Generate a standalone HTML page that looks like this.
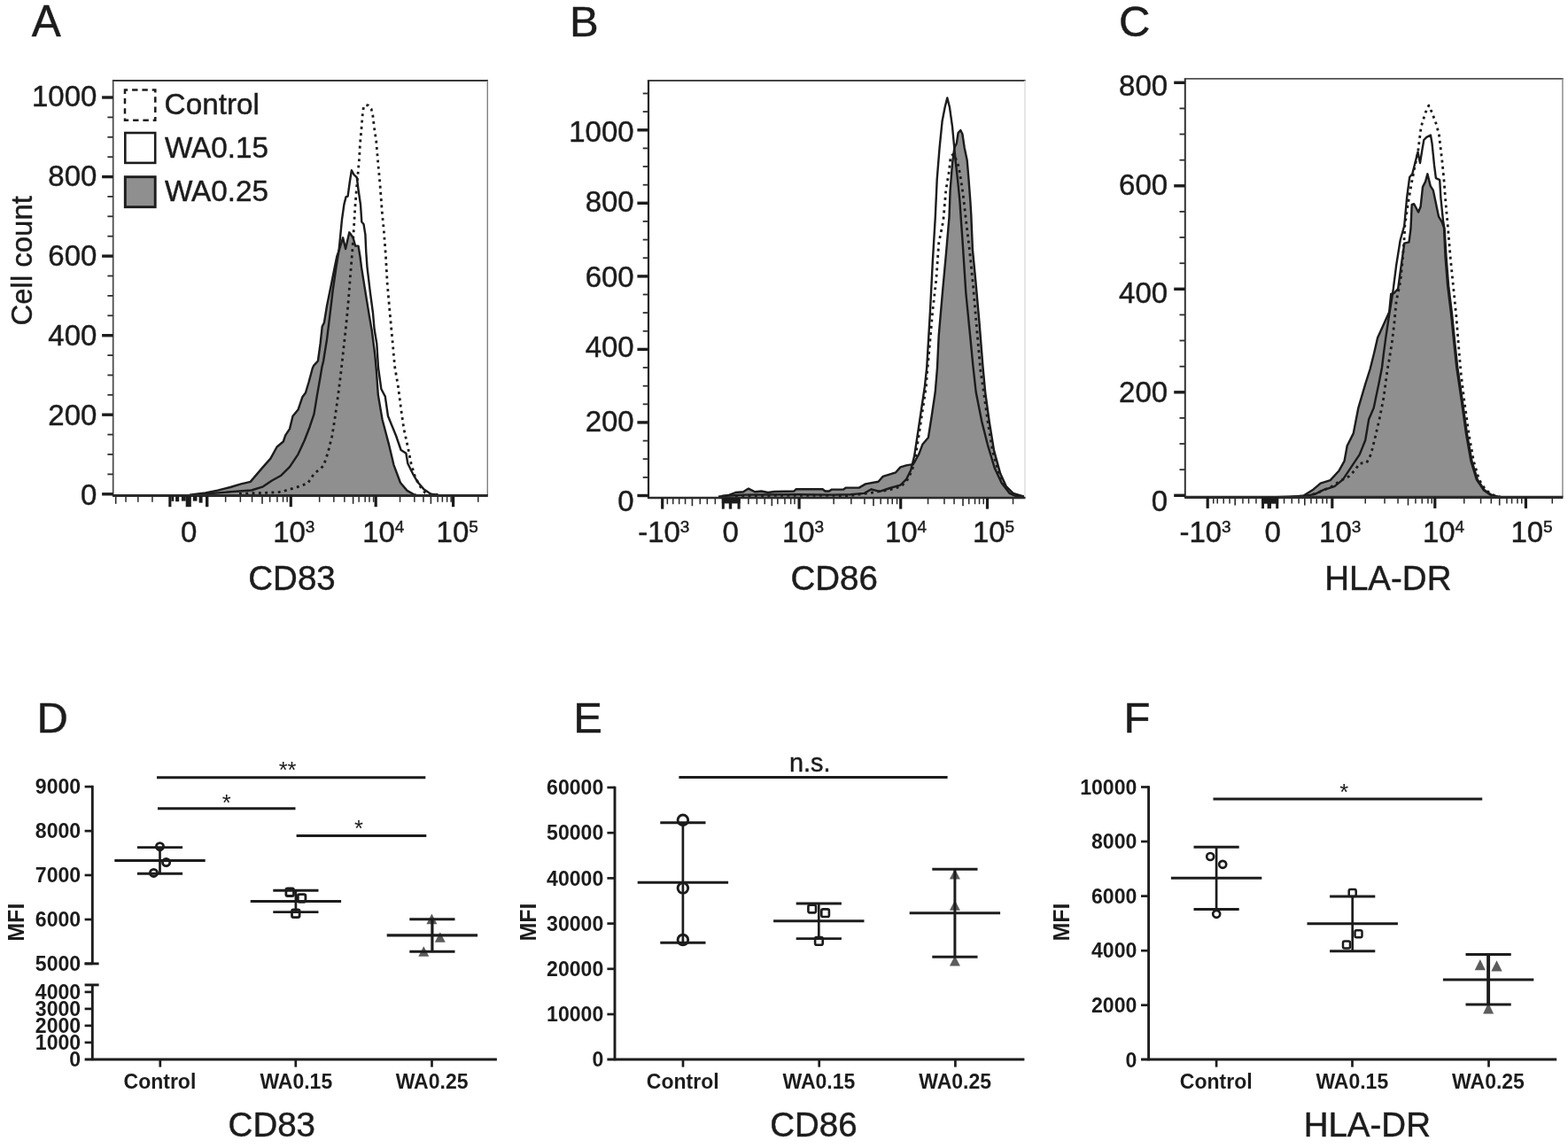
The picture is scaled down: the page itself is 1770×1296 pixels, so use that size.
<!DOCTYPE html>
<html lang="en">
<head>
<meta charset="utf-8">
<title>Figure: CD83, CD86, HLA-DR expression</title>
<style>
html,body{margin:0;padding:0;background:#fff;}
body{width:1770px;height:1296px;overflow:hidden;}
svg{display:block;}
svg text{font-family:"Liberation Sans", sans-serif;fill:#1c1c1c;stroke:#1c1c1c;stroke-width:0.45px;}
svg text.ns{stroke:none;}
</style>
</head>
<body>
<svg width="1770" height="1296" viewBox="0 0 1770 1296">
<rect x="0" y="0" width="1770" height="1296" fill="#ffffff"/>
<g id="panelA">
<text x="35.7" y="41.0" font-size="49.50" text-anchor="start" font-weight="normal" >A</text>
<path d="M214.0 558.6 L232.0 556.5 L245.6 553.6 L260.0 550.0 L272.0 546.3 L282.7 543.9 L295.9 528.4 L305.4 517.6 L312.6 504.5 L319.8 498.5 L322.2 491.3 L327.0 484.1 L330.5 469.8 L336.5 462.6 L341.3 448.3 L344.9 443.5 L348.5 431.5 L352.7 416.0 L354.0 412.9 L358.9 407.5 L361.6 388.0 L363.7 368.6 L365.9 364.3 L369.1 344.8 L373.5 323.2 L377.8 301.6 L380.3 289.5 L382.4 283.6 L387.1 268.3 L390.1 281.0 L394.3 262.3 L398.6 268.3 L401.1 277.6 L404.5 277.6 L406.5 289.5 L408.0 301.6 L412.3 328.6 L416.7 355.6 L419.9 374.0 L423.2 400.0 L425.0 420.0 L426.8 445.6 L431.6 473.7 L439.3 502.9 L444.4 524.6 L452.0 545.0 L459.6 553.9 L467.3 558.3 L470.0 558.6 L470.0 559.8 L214.0 559.8 Z" fill="#8f8f8f" stroke="none"/>
<path d="M214.0 558.6 L232.0 556.5 L245.6 553.6 L260.0 550.0 L272.0 546.3 L282.7 543.9 L295.9 528.4 L305.4 517.6 L312.6 504.5 L319.8 498.5 L322.2 491.3 L327.0 484.1 L330.5 469.8 L336.5 462.6 L341.3 448.3 L344.9 443.5 L348.5 431.5 L352.7 416.0 L354.0 412.9 L358.9 407.5 L361.6 388.0 L363.7 368.6 L365.9 364.3 L369.1 344.8 L373.5 323.2 L377.8 301.6 L380.3 289.5 L382.4 283.6 L387.1 268.3 L390.1 281.0 L394.3 262.3 L398.6 268.3 L401.1 277.6 L404.5 277.6 L406.5 289.5 L408.0 301.6 L412.3 328.6 L416.7 355.6 L419.9 374.0 L423.2 400.0 L425.0 420.0 L426.8 445.6 L431.6 473.7 L439.3 502.9 L444.4 524.6 L452.0 545.0 L459.6 553.9 L467.3 558.3 L470.0 558.6" fill="none" stroke="#1c1c1c" stroke-width="2.4" stroke-linejoin="round"/>
<path d="M222.0 558.3 L260.0 555.3 L283.9 553.5 L297.0 549.3 L306.6 542.7 L317.4 536.7 L327.0 527.2 L336.5 512.8 L343.7 497.3 L349.7 481.7 L354.5 467.4 L358.0 445.9 L361.6 425.5 L363.5 414.0 L365.0 408.0 L369.1 382.6 L372.4 355.6 L375.6 328.6 L379.5 301.6 L382.5 283.0 L383.5 273.4 L386.0 247.9 L388.4 230.9 L390.5 222.4 L392.6 221.6 L394.8 205.5 L396.9 192.3 L399.4 197.0 L402.8 200.4 L404.5 214.0 L407.0 231.0 L408.3 250.5 L410.5 253.0 L412.4 264.9 L413.3 285.0 L414.5 301.6 L417.7 328.6 L421.0 353.5 L422.6 371.8 L425.3 388.0 L427.0 415.0 L430.4 439.3 L434.8 447.6 L438.0 469.8 L446.9 491.5 L452.6 508.0 L458.4 511.8 L460.3 523.3 L466.0 534.8 L471.1 543.7 L478.7 552.6 L486.4 557.7 L494.0 558.6" fill="none" stroke="#1c1c1c" stroke-width="2.4" stroke-linejoin="round"/>
<path d="M270.0 557.5 L284.0 556.6 L298.3 556.5 L317.4 555.3 L335.3 549.9 L347.3 545.7 L354.5 534.9 L365.2 526.0 L370.0 511.6 L374.8 492.5 L378.4 469.8 L381.4 448.3 L384.3 425.5 L385.5 415.0 L387.5 396.7 L390.7 367.5 L393.4 338.3 L395.6 309.2 L397.8 283.0 L399.4 258.0 L400.7 236.0 L402.4 214.0 L404.3 193.4 L405.6 178.0 L406.4 163.0 L407.7 149.0 L408.9 134.0 L409.5 126.7 L410.5 120.5 L412.5 118.4 L415.7 119.0 L419.1 123.0 L420.8 130.0 L422.5 144.6 L424.7 159.4 L425.9 174.0 L427.2 188.7 L428.5 203.0 L429.1 209.7 L431.3 239.4 L433.4 261.5 L435.5 289.5 L437.2 320.0 L440.4 356.7 L443.7 392.3 L445.6 413.8 L449.5 436.7 L452.6 460.9 L455.8 483.8 L460.3 504.2 L464.1 523.3 L468.6 538.6 L474.9 550.0 L480.0 556.4 L486.4 558.2 L497.0 558.6" fill="none" stroke="#1c1c1c" stroke-width="2.8" stroke-dasharray="2.9 4.4" stroke-linejoin="round"/>
<line x1="126.9" y1="91.1" x2="551.0" y2="91.1" stroke="#383838" stroke-width="2.00" stroke-linecap="butt"/>
<line x1="127.7" y1="91.1" x2="127.7" y2="560.6" stroke="#484848" stroke-width="1.70" stroke-linecap="butt"/>
<line x1="550.3" y1="91.1" x2="550.3" y2="559.6" stroke="#808080" stroke-width="1.40" stroke-linecap="butt"/>
<line x1="127.2" y1="559.6" x2="550.8" y2="559.6" stroke="#2b2b2b" stroke-width="3.00" stroke-linecap="butt"/>
<line x1="115.1" y1="557.8" x2="127.7" y2="557.8" stroke="#1c1c1c" stroke-width="3.40" stroke-linecap="butt"/>
<text x="109.4" y="569.8" font-size="33.00" text-anchor="end" font-weight="normal" >0</text>
<line x1="115.1" y1="468.2" x2="127.7" y2="468.2" stroke="#1c1c1c" stroke-width="3.40" stroke-linecap="butt"/>
<text x="109.4" y="480.3" font-size="33.00" text-anchor="end" font-weight="normal" >200</text>
<line x1="115.1" y1="378.7" x2="127.7" y2="378.7" stroke="#1c1c1c" stroke-width="3.40" stroke-linecap="butt"/>
<text x="109.4" y="389.7" font-size="33.00" text-anchor="end" font-weight="normal" >400</text>
<line x1="115.1" y1="289.1" x2="127.7" y2="289.1" stroke="#1c1c1c" stroke-width="3.40" stroke-linecap="butt"/>
<text x="109.4" y="300.2" font-size="33.00" text-anchor="end" font-weight="normal" >600</text>
<line x1="115.1" y1="199.6" x2="127.7" y2="199.6" stroke="#1c1c1c" stroke-width="3.40" stroke-linecap="butt"/>
<text x="109.4" y="210.1" font-size="33.00" text-anchor="end" font-weight="normal" >800</text>
<line x1="115.1" y1="110.0" x2="127.7" y2="110.0" stroke="#1c1c1c" stroke-width="3.40" stroke-linecap="butt"/>
<text x="109.4" y="119.6" font-size="33.00" text-anchor="end" font-weight="normal" >1000</text>
<line x1="121.4" y1="535.4" x2="127.7" y2="535.4" stroke="#2e2e2e" stroke-width="1.80" stroke-linecap="butt"/>
<line x1="121.4" y1="513.0" x2="127.7" y2="513.0" stroke="#2e2e2e" stroke-width="1.80" stroke-linecap="butt"/>
<line x1="121.4" y1="490.6" x2="127.7" y2="490.6" stroke="#2e2e2e" stroke-width="1.80" stroke-linecap="butt"/>
<line x1="121.4" y1="445.8" x2="127.7" y2="445.8" stroke="#2e2e2e" stroke-width="1.80" stroke-linecap="butt"/>
<line x1="121.4" y1="423.5" x2="127.7" y2="423.5" stroke="#2e2e2e" stroke-width="1.80" stroke-linecap="butt"/>
<line x1="121.4" y1="401.1" x2="127.7" y2="401.1" stroke="#2e2e2e" stroke-width="1.80" stroke-linecap="butt"/>
<line x1="121.4" y1="356.3" x2="127.7" y2="356.3" stroke="#2e2e2e" stroke-width="1.80" stroke-linecap="butt"/>
<line x1="121.4" y1="333.9" x2="127.7" y2="333.9" stroke="#2e2e2e" stroke-width="1.80" stroke-linecap="butt"/>
<line x1="121.4" y1="311.5" x2="127.7" y2="311.5" stroke="#2e2e2e" stroke-width="1.80" stroke-linecap="butt"/>
<line x1="121.4" y1="266.7" x2="127.7" y2="266.7" stroke="#2e2e2e" stroke-width="1.80" stroke-linecap="butt"/>
<line x1="121.4" y1="244.3" x2="127.7" y2="244.3" stroke="#2e2e2e" stroke-width="1.80" stroke-linecap="butt"/>
<line x1="121.4" y1="221.9" x2="127.7" y2="221.9" stroke="#2e2e2e" stroke-width="1.80" stroke-linecap="butt"/>
<line x1="121.4" y1="177.2" x2="127.7" y2="177.2" stroke="#2e2e2e" stroke-width="1.80" stroke-linecap="butt"/>
<line x1="121.4" y1="154.8" x2="127.7" y2="154.8" stroke="#2e2e2e" stroke-width="1.80" stroke-linecap="butt"/>
<line x1="121.4" y1="132.4" x2="127.7" y2="132.4" stroke="#2e2e2e" stroke-width="1.80" stroke-linecap="butt"/>
<rect x="326.7" y="559.6" width="3.2" height="12.6" fill="#1c1c1c"/>
<rect x="422.6" y="559.6" width="3.2" height="12.6" fill="#1c1c1c"/>
<rect x="510.0" y="559.6" width="3.2" height="12.6" fill="#1c1c1c"/>
<rect x="141.3" y="559.6" width="1.5" height="7.2" fill="#2a2a2a"/>
<rect x="155.1" y="559.6" width="1.5" height="7.2" fill="#2a2a2a"/>
<rect x="171.2" y="559.6" width="1.5" height="7.2" fill="#2a2a2a"/>
<rect x="253.9" y="559.6" width="1.5" height="7.2" fill="#2a2a2a"/>
<rect x="270.6" y="559.6" width="1.5" height="7.2" fill="#2a2a2a"/>
<rect x="283.8" y="559.6" width="1.5" height="7.2" fill="#2a2a2a"/>
<rect x="303.9" y="559.6" width="1.5" height="7.2" fill="#2a2a2a"/>
<rect x="312.2" y="559.6" width="1.5" height="7.2" fill="#2a2a2a"/>
<rect x="318.8" y="559.6" width="1.5" height="7.2" fill="#2a2a2a"/>
<rect x="323.4" y="559.6" width="1.5" height="7.2" fill="#2a2a2a"/>
<rect x="359.9" y="559.6" width="1.5" height="7.2" fill="#2a2a2a"/>
<rect x="376.1" y="559.6" width="1.5" height="7.2" fill="#2a2a2a"/>
<rect x="388.1" y="559.6" width="1.5" height="7.2" fill="#2a2a2a"/>
<rect x="404.4" y="559.6" width="1.5" height="7.2" fill="#2a2a2a"/>
<rect x="411.4" y="559.6" width="1.5" height="7.2" fill="#2a2a2a"/>
<rect x="416.2" y="559.6" width="1.5" height="7.2" fill="#2a2a2a"/>
<rect x="420.9" y="559.6" width="1.5" height="7.2" fill="#2a2a2a"/>
<rect x="450.8" y="559.6" width="1.5" height="7.2" fill="#2a2a2a"/>
<rect x="467.1" y="559.6" width="1.5" height="7.2" fill="#2a2a2a"/>
<rect x="477.2" y="559.6" width="1.5" height="7.2" fill="#2a2a2a"/>
<rect x="493.4" y="559.6" width="1.5" height="7.2" fill="#2a2a2a"/>
<rect x="498.6" y="559.6" width="1.5" height="7.2" fill="#2a2a2a"/>
<rect x="503.9" y="559.6" width="1.5" height="7.2" fill="#2a2a2a"/>
<rect x="508.4" y="559.6" width="1.5" height="7.2" fill="#2a2a2a"/>
<rect x="539.0" y="559.6" width="1.5" height="7.2" fill="#2a2a2a"/>
<rect x="129.9" y="559.6" width="1.6" height="9.2" fill="#2a2a2a"/>
<rect x="295.2" y="559.6" width="1.6" height="9.2" fill="#2a2a2a"/>
<rect x="397.8" y="559.6" width="1.6" height="9.2" fill="#2a2a2a"/>
<rect x="485.6" y="559.6" width="1.6" height="9.2" fill="#2a2a2a"/>
<rect x="190.3" y="559.6" width="3.1" height="12.6" fill="#1c1c1c"/>
<rect x="193.4" y="559.6" width="2.9" height="6.2" fill="#1c1c1c"/>
<rect x="198.1" y="559.6" width="4.1" height="6.6" fill="#1c1c1c"/>
<rect x="204.9" y="559.6" width="4.8" height="6.0" fill="#1c1c1c"/>
<rect x="209.7" y="559.6" width="6.1" height="12.6" fill="#1c1c1c"/>
<rect x="217.8" y="559.6" width="4.7" height="6.0" fill="#1c1c1c"/>
<rect x="224.6" y="559.6" width="4.0" height="8.0" fill="#1c1c1c"/>
<rect x="232.0" y="559.6" width="3.4" height="12.6" fill="#1c1c1c"/>
<text x="213.1" y="612.3" font-size="33.00" text-anchor="middle" font-weight="normal" >0</text>
<text x="308.2" y="612.2" font-size="33.00" text-anchor="start" font-weight="normal" >10</text>
<text x="344.8" y="601.4" font-size="19.00" text-anchor="start" font-weight="normal" >3</text>
<text x="409.2" y="612.2" font-size="33.00" text-anchor="start" font-weight="normal" >10</text>
<text x="445.8" y="601.4" font-size="19.00" text-anchor="start" font-weight="normal" >4</text>
<text x="492.6" y="612.2" font-size="33.00" text-anchor="start" font-weight="normal" >10</text>
<text x="529.2" y="601.4" font-size="19.00" text-anchor="start" font-weight="normal" >5</text>
<text x="329.5" y="666.4" font-size="38.50" text-anchor="middle" font-weight="normal" >CD83</text>
<text transform="translate(36.4 294.3) rotate(-90)" font-size="32.90" text-anchor="middle" font-weight="normal" >Cell count</text>
<rect x="141.0" y="101.6" width="34.3" height="34.1" fill="#fff" stroke="#1c1c1c" stroke-width="2.5" stroke-dasharray="6.4 4.9" stroke-dashoffset="3.2"/>
<rect x="141.3" y="150.0" width="33.9" height="33.9" fill="#fff" stroke="#1c1c1c" stroke-width="2.6"/>
<rect x="141.3" y="199.7" width="33.9" height="34.0" fill="#8f8f8f" stroke="#1c1c1c" stroke-width="2.9"/>
<text x="185.6" y="128.6" font-size="33.30" text-anchor="start" font-weight="normal" >Control</text>
<text x="185.9" y="177.8" font-size="33.30" text-anchor="start" font-weight="normal" >WA0.15</text>
<text x="185.9" y="226.9" font-size="33.30" text-anchor="start" font-weight="normal" >WA0.25</text>
</g>
<g id="panelB">
<text x="643.0" y="40.6" font-size="49.00" text-anchor="start" font-weight="normal" >B</text>
<path d="M811.0 560.6 L822.8 558.9 L830.2 556.0 L839.0 555.3 L844.9 551.6 L852.2 555.3 L859.5 554.5 L866.9 556.0 L874.2 555.0 L896.3 554.5 L898.5 552.3 L928.6 552.3 L931.5 554.5 L935.9 554.5 L938.9 552.6 L952.1 552.6 L955.0 550.6 L969.7 550.6 L977.0 546.4 L991.5 543.8 L996.7 537.9 L1011.2 533.3 L1016.4 527.4 L1023.0 525.4 L1030.8 524.1 L1037.4 512.3 L1041.3 501.8 L1047.9 494.0 L1051.8 469.0 L1055.7 442.8 L1058.0 415.0 L1059.7 378.9 L1063.9 330.3 L1068.0 285.8 L1071.5 245.0 L1072.6 214.6 L1075.0 184.7 L1077.4 166.7 L1079.8 162.0 L1081.6 150.0 L1084.3 147.0 L1086.4 151.2 L1088.7 166.7 L1091.7 181.1 L1093.5 202.6 L1095.3 226.5 L1096.3 243.0 L1097.9 281.7 L1101.4 317.8 L1105.6 365.0 L1109.5 414.0 L1112.2 442.8 L1116.7 475.6 L1122.0 508.4 L1129.2 534.6 L1135.8 549.0 L1143.6 556.9 L1155.4 560.4 L1155.4 562.0 L811.0 562.0 Z" fill="#8f8f8f" stroke="none"/>
<path d="M811.0 560.6 L822.8 558.9 L830.2 556.0 L839.0 555.3 L844.9 551.6 L852.2 555.3 L859.5 554.5 L866.9 556.0 L874.2 555.0 L896.3 554.5 L898.5 552.3 L928.6 552.3 L931.5 554.5 L935.9 554.5 L938.9 552.6 L952.1 552.6 L955.0 550.6 L969.7 550.6 L977.0 546.4 L991.5 543.8 L996.7 537.9 L1011.2 533.3 L1016.4 527.4 L1023.0 525.4 L1030.8 524.1 L1037.4 512.3 L1041.3 501.8 L1047.9 494.0 L1051.8 469.0 L1055.7 442.8 L1058.0 415.0 L1059.7 378.9 L1063.9 330.3 L1068.0 285.8 L1071.5 245.0 L1072.6 214.6 L1075.0 184.7 L1077.4 166.7 L1079.8 162.0 L1081.6 150.0 L1084.3 147.0 L1086.4 151.2 L1088.7 166.7 L1091.7 181.1 L1093.5 202.6 L1095.3 226.5 L1096.3 243.0 L1097.9 281.7 L1101.4 317.8 L1105.6 365.0 L1109.5 414.0 L1112.2 442.8 L1116.7 475.6 L1122.0 508.4 L1129.2 534.6 L1135.8 549.0 L1143.6 556.9 L1155.4 560.4" fill="none" stroke="#1c1c1c" stroke-width="2.4" stroke-linejoin="round"/>
<path d="M815.0 560.0 L840.0 558.6 L900.0 558.3 L940.0 558.6 L960.0 558.2 L975.7 556.9 L983.6 552.3 L992.8 554.9 L1004.6 551.0 L1016.4 547.7 L1023.0 541.2 L1028.2 530.7 L1032.1 514.9 L1036.1 488.7 L1040.0 462.5 L1043.9 436.2 L1046.2 415.0 L1050.0 351.0 L1052.8 295.6 L1055.8 245.0 L1057.7 202.6 L1060.6 166.7 L1063.6 136.8 L1066.6 121.3 L1069.3 110.5 L1072.0 121.3 L1075.0 142.8 L1076.8 162.0 L1078.6 181.1 L1081.0 202.6 L1083.4 226.5 L1084.5 243.0 L1086.8 276.0 L1090.3 330.3 L1095.1 378.9 L1098.5 414.0 L1101.7 442.8 L1108.2 475.6 L1114.8 501.8 L1122.6 528.0 L1130.5 545.1 L1139.7 556.9 L1146.3 560.0 L1156.0 560.5" fill="none" stroke="#1c1c1c" stroke-width="2.4" stroke-linejoin="round"/>
<path d="M830.0 559.6 L900.0 559.4 L960.0 559.5 L985.0 556.0 L1004.0 553.0 L1017.5 549.0 L1024.5 541.2 L1029.7 530.7 L1033.6 514.9 L1037.6 488.7 L1041.5 462.5 L1045.4 436.2 L1046.7 419.0 L1047.9 406.7 L1052.8 351.0 L1056.9 315.0 L1059.7 274.7 L1064.8 249.2 L1067.8 214.6 L1071.4 193.0 L1073.2 176.3 L1076.2 174.0 L1079.8 181.0 L1082.2 188.3 L1084.6 202.6 L1087.0 218.1 L1089.3 238.5 L1090.5 249.2 L1094.4 281.7 L1098.6 323.3 L1102.1 365.0 L1106.9 419.0 L1110.5 442.8 L1115.0 475.6 L1120.3 508.4 L1127.5 534.6 L1134.0 549.0 L1142.0 556.9 L1150.0 560.0" fill="none" stroke="#1c1c1c" stroke-width="2.8" stroke-dasharray="2.9 4.4" stroke-linejoin="round"/>
<line x1="730.9" y1="91.0" x2="1157.7" y2="91.0" stroke="#444444" stroke-width="2.00" stroke-linecap="butt"/>
<line x1="732.0" y1="91.0" x2="732.0" y2="563.0" stroke="#222222" stroke-width="2.20" stroke-linecap="butt"/>
<line x1="1157.0" y1="91.0" x2="1157.0" y2="562.0" stroke="#dcdcdc" stroke-width="1.40" stroke-linecap="butt"/>
<line x1="731.5" y1="562.0" x2="1157.5" y2="562.0" stroke="#2b2b2b" stroke-width="2.40" stroke-linecap="butt"/>
<line x1="719.4" y1="559.5" x2="732.0" y2="559.5" stroke="#1c1c1c" stroke-width="3.40" stroke-linecap="butt"/>
<text x="715.7" y="577.0" font-size="33.00" text-anchor="end" font-weight="normal" >0</text>
<line x1="719.4" y1="476.9" x2="732.0" y2="476.9" stroke="#1c1c1c" stroke-width="3.40" stroke-linecap="butt"/>
<text x="715.7" y="487.3" font-size="33.00" text-anchor="end" font-weight="normal" >200</text>
<line x1="719.4" y1="394.4" x2="732.0" y2="394.4" stroke="#1c1c1c" stroke-width="3.40" stroke-linecap="butt"/>
<text x="715.7" y="402.7" font-size="33.00" text-anchor="end" font-weight="normal" >400</text>
<line x1="719.4" y1="311.9" x2="732.0" y2="311.9" stroke="#1c1c1c" stroke-width="3.40" stroke-linecap="butt"/>
<text x="715.7" y="323.7" font-size="33.00" text-anchor="end" font-weight="normal" >600</text>
<line x1="719.4" y1="229.3" x2="732.0" y2="229.3" stroke="#1c1c1c" stroke-width="3.40" stroke-linecap="butt"/>
<text x="715.7" y="239.0" font-size="33.00" text-anchor="end" font-weight="normal" >800</text>
<line x1="719.4" y1="146.8" x2="732.0" y2="146.8" stroke="#1c1c1c" stroke-width="3.40" stroke-linecap="butt"/>
<text x="715.7" y="159.5" font-size="33.00" text-anchor="end" font-weight="normal" >1000</text>
<line x1="725.7" y1="538.9" x2="732.0" y2="538.9" stroke="#2e2e2e" stroke-width="1.80" stroke-linecap="butt"/>
<line x1="725.7" y1="518.2" x2="732.0" y2="518.2" stroke="#2e2e2e" stroke-width="1.80" stroke-linecap="butt"/>
<line x1="725.7" y1="497.6" x2="732.0" y2="497.6" stroke="#2e2e2e" stroke-width="1.80" stroke-linecap="butt"/>
<line x1="725.7" y1="456.3" x2="732.0" y2="456.3" stroke="#2e2e2e" stroke-width="1.80" stroke-linecap="butt"/>
<line x1="725.7" y1="435.7" x2="732.0" y2="435.7" stroke="#2e2e2e" stroke-width="1.80" stroke-linecap="butt"/>
<line x1="725.7" y1="415.0" x2="732.0" y2="415.0" stroke="#2e2e2e" stroke-width="1.80" stroke-linecap="butt"/>
<line x1="725.7" y1="373.8" x2="732.0" y2="373.8" stroke="#2e2e2e" stroke-width="1.80" stroke-linecap="butt"/>
<line x1="725.7" y1="353.1" x2="732.0" y2="353.1" stroke="#2e2e2e" stroke-width="1.80" stroke-linecap="butt"/>
<line x1="725.7" y1="332.5" x2="732.0" y2="332.5" stroke="#2e2e2e" stroke-width="1.80" stroke-linecap="butt"/>
<line x1="725.7" y1="291.2" x2="732.0" y2="291.2" stroke="#2e2e2e" stroke-width="1.80" stroke-linecap="butt"/>
<line x1="725.7" y1="270.6" x2="732.0" y2="270.6" stroke="#2e2e2e" stroke-width="1.80" stroke-linecap="butt"/>
<line x1="725.7" y1="249.9" x2="732.0" y2="249.9" stroke="#2e2e2e" stroke-width="1.80" stroke-linecap="butt"/>
<line x1="725.7" y1="208.7" x2="732.0" y2="208.7" stroke="#2e2e2e" stroke-width="1.80" stroke-linecap="butt"/>
<line x1="725.7" y1="188.0" x2="732.0" y2="188.0" stroke="#2e2e2e" stroke-width="1.80" stroke-linecap="butt"/>
<line x1="725.7" y1="167.4" x2="732.0" y2="167.4" stroke="#2e2e2e" stroke-width="1.80" stroke-linecap="butt"/>
<line x1="725.7" y1="126.1" x2="732.0" y2="126.1" stroke="#2e2e2e" stroke-width="1.80" stroke-linecap="butt"/>
<line x1="725.7" y1="105.5" x2="732.0" y2="105.5" stroke="#2e2e2e" stroke-width="1.80" stroke-linecap="butt"/>
<rect x="746.1" y="562.0" width="3.2" height="12.6" fill="#1c1c1c"/>
<rect x="900.5" y="562.0" width="3.2" height="12.6" fill="#1c1c1c"/>
<rect x="1015.1" y="562.0" width="3.2" height="12.6" fill="#1c1c1c"/>
<rect x="1112.9" y="562.0" width="3.2" height="12.6" fill="#1c1c1c"/>
<rect x="752.6" y="562.0" width="1.5" height="7.2" fill="#2a2a2a"/>
<rect x="759.0" y="562.0" width="1.5" height="7.2" fill="#2a2a2a"/>
<rect x="765.9" y="562.0" width="1.5" height="7.2" fill="#2a2a2a"/>
<rect x="772.8" y="562.0" width="1.5" height="7.2" fill="#2a2a2a"/>
<rect x="789.5" y="562.0" width="1.5" height="7.2" fill="#2a2a2a"/>
<rect x="797.6" y="562.0" width="1.5" height="7.2" fill="#2a2a2a"/>
<rect x="806.6" y="562.0" width="1.5" height="7.2" fill="#2a2a2a"/>
<rect x="844.1" y="562.0" width="1.5" height="7.2" fill="#2a2a2a"/>
<rect x="853.6" y="562.0" width="1.5" height="7.2" fill="#2a2a2a"/>
<rect x="862.5" y="562.0" width="1.5" height="7.2" fill="#2a2a2a"/>
<rect x="877.1" y="562.0" width="1.5" height="7.2" fill="#2a2a2a"/>
<rect x="885.2" y="562.0" width="1.5" height="7.2" fill="#2a2a2a"/>
<rect x="891.9" y="562.0" width="1.5" height="7.2" fill="#2a2a2a"/>
<rect x="896.2" y="562.0" width="1.5" height="7.2" fill="#2a2a2a"/>
<rect x="940.4" y="562.0" width="1.5" height="7.2" fill="#2a2a2a"/>
<rect x="960.1" y="562.0" width="1.5" height="7.2" fill="#2a2a2a"/>
<rect x="975.2" y="562.0" width="1.5" height="7.2" fill="#2a2a2a"/>
<rect x="993.4" y="562.0" width="1.5" height="7.2" fill="#2a2a2a"/>
<rect x="1001.5" y="562.0" width="1.5" height="7.2" fill="#2a2a2a"/>
<rect x="1006.5" y="562.0" width="1.5" height="7.2" fill="#2a2a2a"/>
<rect x="1011.8" y="562.0" width="1.5" height="7.2" fill="#2a2a2a"/>
<rect x="1046.8" y="562.0" width="1.5" height="7.2" fill="#2a2a2a"/>
<rect x="1065.2" y="562.0" width="1.5" height="7.2" fill="#2a2a2a"/>
<rect x="1076.3" y="562.0" width="1.5" height="7.2" fill="#2a2a2a"/>
<rect x="1093.0" y="562.0" width="1.5" height="7.2" fill="#2a2a2a"/>
<rect x="1099.8" y="562.0" width="1.5" height="7.2" fill="#2a2a2a"/>
<rect x="1104.8" y="562.0" width="1.5" height="7.2" fill="#2a2a2a"/>
<rect x="1109.5" y="562.0" width="1.5" height="7.2" fill="#2a2a2a"/>
<rect x="1142.8" y="562.0" width="1.5" height="7.2" fill="#2a2a2a"/>
<rect x="780.6" y="562.0" width="1.6" height="9.2" fill="#2a2a2a"/>
<rect x="870.5" y="562.0" width="1.6" height="9.2" fill="#2a2a2a"/>
<rect x="985.2" y="562.0" width="1.6" height="9.2" fill="#2a2a2a"/>
<rect x="1086.2" y="562.0" width="1.6" height="9.2" fill="#2a2a2a"/>
<rect x="814.8" y="562.0" width="20.8" height="6.4" fill="#1c1c1c"/>
<rect x="814.8" y="562.0" width="3.0" height="12.6" fill="#1c1c1c"/>
<rect x="822.8" y="562.0" width="3.4" height="12.6" fill="#1c1c1c"/>
<rect x="832.5" y="562.0" width="3.1" height="12.6" fill="#1c1c1c"/>
<text x="824.7" y="612.2" font-size="33.00" text-anchor="middle" font-weight="normal" >0</text>
<text x="720.2" y="612.2" font-size="33.00" text-anchor="start" font-weight="normal" >-10</text>
<text x="767.8" y="601.4" font-size="19.00" text-anchor="start" font-weight="normal" >3</text>
<text x="883.0" y="612.2" font-size="33.00" text-anchor="start" font-weight="normal" >10</text>
<text x="919.6" y="601.4" font-size="19.00" text-anchor="start" font-weight="normal" >3</text>
<text x="999.0" y="612.2" font-size="33.00" text-anchor="start" font-weight="normal" >10</text>
<text x="1035.6" y="601.4" font-size="19.00" text-anchor="start" font-weight="normal" >4</text>
<text x="1098.0" y="612.2" font-size="33.00" text-anchor="start" font-weight="normal" >10</text>
<text x="1134.6" y="601.4" font-size="19.00" text-anchor="start" font-weight="normal" >5</text>
<text x="941.7" y="666.2" font-size="38.50" text-anchor="middle" font-weight="normal" >CD86</text>
</g>
<g id="panelC">
<text x="1263.0" y="41.2" font-size="49.00" text-anchor="start" font-weight="normal" >C</text>
<path d="M1455.8 561.3 L1471.6 559.5 L1482.7 552.4 L1490.6 545.7 L1501.7 542.1 L1511.2 531.8 L1517.5 520.7 L1520.7 503.3 L1527.8 489.1 L1533.3 460.6 L1541.2 433.7 L1546.5 417.0 L1551.2 398.3 L1555.1 381.2 L1568.2 352.3 L1570.2 332.0 L1573.5 331.0 L1578.1 326.1 L1581.3 302.5 L1585.3 274.6 L1590.5 273.3 L1592.5 258.0 L1593.7 230.9 L1596.2 230.2 L1601.1 239.5 L1603.6 233.3 L1606.0 211.1 L1609.1 204.9 L1611.4 196.3 L1614.7 209.9 L1617.8 214.8 L1620.9 229.6 L1624.0 244.4 L1627.7 250.6 L1630.0 257.0 L1631.5 289.4 L1634.1 322.2 L1638.1 355.0 L1641.4 387.8 L1644.3 415.0 L1649.4 449.6 L1654.9 489.1 L1660.5 520.7 L1666.8 541.3 L1674.7 553.2 L1682.6 558.7 L1692.0 561.3 L1692.0 561.3 L1455.8 561.3 Z" fill="#8f8f8f" stroke="none"/>
<path d="M1455.8 561.3 L1471.6 559.5 L1482.7 552.4 L1490.6 545.7 L1501.7 542.1 L1511.2 531.8 L1517.5 520.7 L1520.7 503.3 L1527.8 489.1 L1533.3 460.6 L1541.2 433.7 L1546.5 417.0 L1551.2 398.3 L1555.1 381.2 L1568.2 352.3 L1570.2 332.0 L1573.5 331.0 L1578.1 326.1 L1581.3 302.5 L1585.3 274.6 L1590.5 273.3 L1592.5 258.0 L1593.7 230.9 L1596.2 230.2 L1601.1 239.5 L1603.6 233.3 L1606.0 211.1 L1609.1 204.9 L1611.4 196.3 L1614.7 209.9 L1617.8 214.8 L1620.9 229.6 L1624.0 244.4 L1627.7 250.6 L1630.0 257.0 L1631.5 289.4 L1634.1 322.2 L1638.1 355.0 L1641.4 387.8 L1644.3 415.0 L1649.4 449.6 L1654.9 489.1 L1660.5 520.7 L1666.8 541.3 L1674.7 553.2 L1682.6 558.7 L1692.0 561.3" fill="none" stroke="#1c1c1c" stroke-width="2.4" stroke-linejoin="round"/>
<path d="M1340.0 561.3 L1440.0 561.3 L1471.6 560.3 L1484.3 557.9 L1493.8 553.2 L1506.4 549.2 L1515.9 541.3 L1525.4 527.1 L1534.9 512.8 L1541.2 497.0 L1545.2 473.3 L1550.7 460.6 L1556.3 433.7 L1560.0 415.0 L1561.7 400.9 L1564.3 381.2 L1568.2 355.0 L1571.5 335.0 L1572.8 326.1 L1576.1 299.9 L1580.7 271.0 L1585.2 255.0 L1588.1 223.5 L1591.2 200.0 L1594.3 196.3 L1598.0 181.5 L1600.5 171.6 L1603.0 184.0 L1605.4 169.1 L1607.3 158.0 L1610.4 154.9 L1614.9 152.5 L1616.5 161.7 L1619.0 186.4 L1620.9 201.2 L1625.2 203.1 L1626.4 223.5 L1628.9 248.1 L1630.7 259.3 L1632.5 289.4 L1635.1 322.2 L1639.1 355.0 L1642.4 387.8 L1645.3 415.0 L1650.4 449.6 L1655.9 489.1 L1661.5 520.7 L1667.8 541.3 L1675.7 553.2 L1683.6 558.7 L1693.1 561.1 L1763.0 561.3" fill="none" stroke="#1c1c1c" stroke-width="2.4" stroke-linejoin="round"/>
<path d="M1474.8 560.3 L1487.5 556.3 L1503.3 549.2 L1512.8 542.9 L1522.3 538.1 L1528.6 531.8 L1534.9 523.1 L1542.8 522.3 L1547.6 512.8 L1552.3 493.8 L1557.1 473.3 L1561.8 449.6 L1565.0 425.8 L1566.5 415.0 L1568.2 406.1 L1571.5 385.1 L1574.1 362.8 L1576.1 340.5 L1580.7 318.2 L1583.3 293.3 L1585.3 267.0 L1585.8 255.0 L1589.4 229.6 L1593.1 208.6 L1596.8 188.9 L1600.5 172.8 L1602.3 158.0 L1604.2 143.2 L1609.1 127.2 L1612.8 119.1 L1616.5 127.2 L1621.5 140.7 L1624.6 153.1 L1626.4 169.1 L1628.3 185.2 L1630.1 204.9 L1632.0 229.6 L1634.4 256.0 L1637.1 289.4 L1640.4 322.2 L1643.7 355.0 L1646.3 387.8 L1648.9 419.2 L1652.5 449.6 L1657.9 489.1 L1663.5 520.7 L1669.5 541.3 L1677.0 553.2 L1685.0 558.7 L1694.0 561.1" fill="none" stroke="#1c1c1c" stroke-width="2.8" stroke-dasharray="2.9 4.4" stroke-linejoin="round"/>
<line x1="1336.8" y1="88.8" x2="1764.6" y2="88.8" stroke="#505050" stroke-width="1.80" stroke-linecap="butt"/>
<line x1="1337.8" y1="88.8" x2="1337.8" y2="562.3" stroke="#333333" stroke-width="2.00" stroke-linecap="butt"/>
<line x1="1763.9" y1="88.8" x2="1763.9" y2="561.3" stroke="#858585" stroke-width="1.40" stroke-linecap="butt"/>
<line x1="1337.3" y1="561.3" x2="1764.4" y2="561.3" stroke="#2b2b2b" stroke-width="3.20" stroke-linecap="butt"/>
<line x1="1325.2" y1="559.3" x2="1337.8" y2="559.3" stroke="#1c1c1c" stroke-width="3.40" stroke-linecap="butt"/>
<text x="1318.1" y="577.0" font-size="33.00" text-anchor="end" font-weight="normal" >0</text>
<line x1="1325.2" y1="442.8" x2="1337.8" y2="442.8" stroke="#1c1c1c" stroke-width="3.40" stroke-linecap="butt"/>
<text x="1318.1" y="454.1" font-size="33.00" text-anchor="end" font-weight="normal" >200</text>
<line x1="1325.2" y1="326.3" x2="1337.8" y2="326.3" stroke="#1c1c1c" stroke-width="3.40" stroke-linecap="butt"/>
<text x="1318.1" y="341.7" font-size="33.00" text-anchor="end" font-weight="normal" >400</text>
<line x1="1325.2" y1="209.8" x2="1337.8" y2="209.8" stroke="#1c1c1c" stroke-width="3.40" stroke-linecap="butt"/>
<text x="1318.1" y="219.7" font-size="33.00" text-anchor="end" font-weight="normal" >600</text>
<line x1="1325.2" y1="93.3" x2="1337.8" y2="93.3" stroke="#1c1c1c" stroke-width="3.40" stroke-linecap="butt"/>
<text x="1318.1" y="107.9" font-size="33.00" text-anchor="end" font-weight="normal" >800</text>
<line x1="1331.5" y1="530.2" x2="1337.8" y2="530.2" stroke="#2e2e2e" stroke-width="1.80" stroke-linecap="butt"/>
<line x1="1331.5" y1="501.0" x2="1337.8" y2="501.0" stroke="#2e2e2e" stroke-width="1.80" stroke-linecap="butt"/>
<line x1="1331.5" y1="471.9" x2="1337.8" y2="471.9" stroke="#2e2e2e" stroke-width="1.80" stroke-linecap="butt"/>
<line x1="1331.5" y1="413.7" x2="1337.8" y2="413.7" stroke="#2e2e2e" stroke-width="1.80" stroke-linecap="butt"/>
<line x1="1331.5" y1="384.5" x2="1337.8" y2="384.5" stroke="#2e2e2e" stroke-width="1.80" stroke-linecap="butt"/>
<line x1="1331.5" y1="355.4" x2="1337.8" y2="355.4" stroke="#2e2e2e" stroke-width="1.80" stroke-linecap="butt"/>
<line x1="1331.5" y1="297.2" x2="1337.8" y2="297.2" stroke="#2e2e2e" stroke-width="1.80" stroke-linecap="butt"/>
<line x1="1331.5" y1="268.0" x2="1337.8" y2="268.0" stroke="#2e2e2e" stroke-width="1.80" stroke-linecap="butt"/>
<line x1="1331.5" y1="238.9" x2="1337.8" y2="238.9" stroke="#2e2e2e" stroke-width="1.80" stroke-linecap="butt"/>
<line x1="1331.5" y1="180.7" x2="1337.8" y2="180.7" stroke="#2e2e2e" stroke-width="1.80" stroke-linecap="butt"/>
<line x1="1331.5" y1="151.5" x2="1337.8" y2="151.5" stroke="#2e2e2e" stroke-width="1.80" stroke-linecap="butt"/>
<line x1="1331.5" y1="122.4" x2="1337.8" y2="122.4" stroke="#2e2e2e" stroke-width="1.80" stroke-linecap="butt"/>
<rect x="1361.6" y="561.3" width="3.2" height="12.6" fill="#1c1c1c"/>
<rect x="1502.2" y="561.3" width="3.2" height="12.6" fill="#1c1c1c"/>
<rect x="1618.2" y="561.3" width="3.2" height="12.6" fill="#1c1c1c"/>
<rect x="1720.8" y="561.3" width="3.2" height="12.6" fill="#1c1c1c"/>
<rect x="1369.0" y="561.3" width="1.5" height="7.2" fill="#2a2a2a"/>
<rect x="1373.5" y="561.3" width="1.5" height="7.2" fill="#2a2a2a"/>
<rect x="1380.5" y="561.3" width="1.5" height="7.2" fill="#2a2a2a"/>
<rect x="1387.3" y="561.3" width="1.5" height="7.2" fill="#2a2a2a"/>
<rect x="1402.2" y="561.3" width="1.5" height="7.2" fill="#2a2a2a"/>
<rect x="1408.8" y="561.3" width="1.5" height="7.2" fill="#2a2a2a"/>
<rect x="1417.2" y="561.3" width="1.5" height="7.2" fill="#2a2a2a"/>
<rect x="1448.8" y="561.3" width="1.5" height="7.2" fill="#2a2a2a"/>
<rect x="1457.5" y="561.3" width="1.5" height="7.2" fill="#2a2a2a"/>
<rect x="1465.3" y="561.3" width="1.5" height="7.2" fill="#2a2a2a"/>
<rect x="1479.2" y="561.3" width="1.5" height="7.2" fill="#2a2a2a"/>
<rect x="1485.5" y="561.3" width="1.5" height="7.2" fill="#2a2a2a"/>
<rect x="1492.2" y="561.3" width="1.5" height="7.2" fill="#2a2a2a"/>
<rect x="1497.0" y="561.3" width="1.5" height="7.2" fill="#2a2a2a"/>
<rect x="1540.5" y="561.3" width="1.5" height="7.2" fill="#2a2a2a"/>
<rect x="1562.3" y="561.3" width="1.5" height="7.2" fill="#2a2a2a"/>
<rect x="1577.3" y="561.3" width="1.5" height="7.2" fill="#2a2a2a"/>
<rect x="1597.2" y="561.3" width="1.5" height="7.2" fill="#2a2a2a"/>
<rect x="1604.5" y="561.3" width="1.5" height="7.2" fill="#2a2a2a"/>
<rect x="1611.2" y="561.3" width="1.5" height="7.2" fill="#2a2a2a"/>
<rect x="1615.5" y="561.3" width="1.5" height="7.2" fill="#2a2a2a"/>
<rect x="1652.0" y="561.3" width="1.5" height="7.2" fill="#2a2a2a"/>
<rect x="1670.8" y="561.3" width="1.5" height="7.2" fill="#2a2a2a"/>
<rect x="1682.5" y="561.3" width="1.5" height="7.2" fill="#2a2a2a"/>
<rect x="1700.2" y="561.3" width="1.5" height="7.2" fill="#2a2a2a"/>
<rect x="1705.8" y="561.3" width="1.5" height="7.2" fill="#2a2a2a"/>
<rect x="1712.2" y="561.3" width="1.5" height="7.2" fill="#2a2a2a"/>
<rect x="1717.0" y="561.3" width="1.5" height="7.2" fill="#2a2a2a"/>
<rect x="1751.5" y="561.3" width="1.5" height="7.2" fill="#2a2a2a"/>
<rect x="1393.4" y="561.3" width="1.6" height="9.2" fill="#2a2a2a"/>
<rect x="1472.0" y="561.3" width="1.6" height="9.2" fill="#2a2a2a"/>
<rect x="1588.7" y="561.3" width="1.6" height="9.2" fill="#2a2a2a"/>
<rect x="1691.9" y="561.3" width="1.6" height="9.2" fill="#2a2a2a"/>
<rect x="1424.1" y="561.3" width="19.1" height="7.4" fill="#1c1c1c"/>
<rect x="1424.1" y="561.3" width="2.9" height="12.8" fill="#1c1c1c"/>
<rect x="1430.6" y="561.3" width="4.4" height="12.8" fill="#1c1c1c"/>
<rect x="1440.2" y="561.3" width="3.0" height="12.8" fill="#1c1c1c"/>
<text x="1436.7" y="612.0" font-size="33.00" text-anchor="middle" font-weight="normal" >0</text>
<text x="1331.4" y="612.0" font-size="33.00" text-anchor="start" font-weight="normal" >-10</text>
<text x="1379.0" y="601.2" font-size="19.00" text-anchor="start" font-weight="normal" >3</text>
<text x="1489.1" y="612.0" font-size="33.00" text-anchor="start" font-weight="normal" >10</text>
<text x="1525.7" y="601.2" font-size="19.00" text-anchor="start" font-weight="normal" >3</text>
<text x="1605.9" y="612.0" font-size="33.00" text-anchor="start" font-weight="normal" >10</text>
<text x="1642.5" y="601.2" font-size="19.00" text-anchor="start" font-weight="normal" >4</text>
<text x="1705.5" y="612.0" font-size="33.00" text-anchor="start" font-weight="normal" >10</text>
<text x="1742.1" y="601.2" font-size="19.00" text-anchor="start" font-weight="normal" >5</text>
<text x="1566.8" y="666.2" font-size="38.50" text-anchor="middle" font-weight="normal" >HLA-DR</text>
</g>
<g id="panelD">
<text x="41.6" y="827.2" font-size="49.00" text-anchor="start" font-weight="normal" >D</text>
<line x1="104.3" y1="886.8" x2="104.3" y2="1087.9" stroke="#1c1c1c" stroke-width="2.90" stroke-linecap="butt"/>
<line x1="95.6" y1="888.1" x2="104.3" y2="888.1" stroke="#1c1c1c" stroke-width="2.70" stroke-linecap="butt"/>
<text x="91.2" y="896.3" font-size="23.10" text-anchor="end" font-weight="bold"  class="ns">9000</text>
<line x1="95.6" y1="938.1" x2="104.3" y2="938.1" stroke="#1c1c1c" stroke-width="2.70" stroke-linecap="butt"/>
<text x="91.2" y="946.3" font-size="23.10" text-anchor="end" font-weight="bold"  class="ns">8000</text>
<line x1="95.6" y1="988.0" x2="104.3" y2="988.0" stroke="#1c1c1c" stroke-width="2.70" stroke-linecap="butt"/>
<text x="91.2" y="996.2" font-size="23.10" text-anchor="end" font-weight="bold"  class="ns">7000</text>
<line x1="95.6" y1="1038.0" x2="104.3" y2="1038.0" stroke="#1c1c1c" stroke-width="2.70" stroke-linecap="butt"/>
<text x="91.2" y="1046.2" font-size="23.10" text-anchor="end" font-weight="bold"  class="ns">6000</text>
<line x1="95.6" y1="1087.9" x2="104.3" y2="1087.9" stroke="#1c1c1c" stroke-width="2.70" stroke-linecap="butt"/>
<text x="91.2" y="1096.1" font-size="23.10" text-anchor="end" font-weight="bold"  class="ns">5000</text>
<line x1="95.6" y1="1087.9" x2="111.6" y2="1087.9" stroke="#1c1c1c" stroke-width="2.90" stroke-linecap="butt"/>
<line x1="95.6" y1="1111.9" x2="111.6" y2="1111.9" stroke="#1c1c1c" stroke-width="2.90" stroke-linecap="butt"/>
<line x1="104.3" y1="1111.9" x2="104.3" y2="1197.2" stroke="#1c1c1c" stroke-width="2.90" stroke-linecap="butt"/>
<line x1="95.6" y1="1119.9" x2="104.3" y2="1119.9" stroke="#1c1c1c" stroke-width="2.70" stroke-linecap="butt"/>
<text x="91.2" y="1128.1" font-size="23.10" text-anchor="end" font-weight="bold"  class="ns">4000</text>
<line x1="95.6" y1="1138.9" x2="104.3" y2="1138.9" stroke="#1c1c1c" stroke-width="2.70" stroke-linecap="butt"/>
<text x="91.2" y="1147.1" font-size="23.10" text-anchor="end" font-weight="bold"  class="ns">3000</text>
<line x1="95.6" y1="1157.9" x2="104.3" y2="1157.9" stroke="#1c1c1c" stroke-width="2.70" stroke-linecap="butt"/>
<text x="91.2" y="1166.1" font-size="23.10" text-anchor="end" font-weight="bold"  class="ns">2000</text>
<line x1="95.6" y1="1176.9" x2="104.3" y2="1176.9" stroke="#1c1c1c" stroke-width="2.70" stroke-linecap="butt"/>
<text x="91.2" y="1185.1" font-size="23.10" text-anchor="end" font-weight="bold"  class="ns">1000</text>
<text x="91.2" y="1204.1" font-size="23.10" text-anchor="end" font-weight="bold"  class="ns">0</text>
<line x1="95.6" y1="1196.0" x2="560.9" y2="1196.0" stroke="#1c1c1c" stroke-width="2.90" stroke-linecap="butt"/>
<line x1="180.8" y1="1196.0" x2="180.8" y2="1204.6" stroke="#1c1c1c" stroke-width="2.70" stroke-linecap="butt"/>
<line x1="333.8" y1="1196.0" x2="333.8" y2="1204.6" stroke="#1c1c1c" stroke-width="2.70" stroke-linecap="butt"/>
<line x1="487.5" y1="1196.0" x2="487.5" y2="1204.6" stroke="#1c1c1c" stroke-width="2.70" stroke-linecap="butt"/>
<text x="180.4" y="1229.0" font-size="23.00" text-anchor="middle" font-weight="bold"  class="ns">Control</text>
<text x="334.3" y="1229.0" font-size="23.00" text-anchor="middle" font-weight="bold"  class="ns">WA0.15</text>
<text x="487.6" y="1229.0" font-size="23.00" text-anchor="middle" font-weight="bold"  class="ns">WA0.25</text>
<text transform="translate(27.2 1041.2) rotate(-90)" font-size="25.00" text-anchor="middle" font-weight="bold"  class="ns">MFI</text>
<text x="306.8" y="1283.0" font-size="38.50" text-anchor="middle" font-weight="normal" >CD83</text>
<line x1="177.0" y1="877.8" x2="480.3" y2="877.8" stroke="#1c1c1c" stroke-width="3.00" stroke-linecap="butt"/>
<line x1="178.0" y1="912.8" x2="333.5" y2="912.8" stroke="#1c1c1c" stroke-width="3.00" stroke-linecap="butt"/>
<line x1="334.6" y1="943.6" x2="481.3" y2="943.6" stroke="#1c1c1c" stroke-width="3.00" stroke-linecap="butt"/>
<text x="324.6" y="878.1" font-size="25.50" text-anchor="middle" font-weight="normal" class="ns">**</text>
<text x="255.8" y="914.8" font-size="25.50" text-anchor="middle" font-weight="normal" class="ns">*</text>
<text x="404.9" y="944.2" font-size="25.50" text-anchor="middle" font-weight="normal" class="ns">*</text>
<polygon points="487.4,1031.6 481.4,1043.2 493.4,1043.2" fill="#5c5c5c"/>
<polygon points="496.8,1052.2 490.8,1063.8 502.8,1063.8" fill="#5c5c5c"/>
<polygon points="478.3,1068.2 472.3,1079.8 484.3,1079.8" fill="#5c5c5c"/>
<line x1="154.9" y1="956.6" x2="206.1" y2="956.6" stroke="#1c1c1c" stroke-width="2.95" stroke-linecap="butt"/>
<line x1="154.9" y1="986.3" x2="206.1" y2="986.3" stroke="#1c1c1c" stroke-width="2.95" stroke-linecap="butt"/>
<line x1="129.3" y1="971.5" x2="231.7" y2="971.5" stroke="#1c1c1c" stroke-width="3.00" stroke-linecap="butt"/>
<line x1="180.5" y1="956.6" x2="180.5" y2="986.3" stroke="#1c1c1c" stroke-width="2.70" stroke-linecap="butt"/>
<line x1="308.3" y1="1005.2" x2="359.5" y2="1005.2" stroke="#1c1c1c" stroke-width="2.95" stroke-linecap="butt"/>
<line x1="308.3" y1="1029.6" x2="359.5" y2="1029.6" stroke="#1c1c1c" stroke-width="2.95" stroke-linecap="butt"/>
<line x1="282.7" y1="1017.4" x2="385.1" y2="1017.4" stroke="#1c1c1c" stroke-width="3.00" stroke-linecap="butt"/>
<line x1="333.9" y1="1005.2" x2="333.9" y2="1029.6" stroke="#1c1c1c" stroke-width="2.70" stroke-linecap="butt"/>
<line x1="462.3" y1="1037.8" x2="513.5" y2="1037.8" stroke="#1c1c1c" stroke-width="2.95" stroke-linecap="butt"/>
<line x1="462.3" y1="1074.3" x2="513.5" y2="1074.3" stroke="#1c1c1c" stroke-width="2.95" stroke-linecap="butt"/>
<line x1="436.7" y1="1055.9" x2="539.1" y2="1055.9" stroke="#1c1c1c" stroke-width="3.10" stroke-linecap="butt"/>
<line x1="487.9" y1="1037.8" x2="487.9" y2="1074.3" stroke="#1c1c1c" stroke-width="3.20" stroke-linecap="butt"/>
<circle cx="180.5" cy="955.7" r="4.1" fill="none" stroke="#1c1c1c" stroke-width="2.8"/>
<circle cx="187.6" cy="973.5" r="4.1" fill="none" stroke="#1c1c1c" stroke-width="2.8"/>
<circle cx="173.5" cy="985.4" r="4.1" fill="none" stroke="#1c1c1c" stroke-width="2.8"/>
<rect x="322.9" y="1002.9" width="8.6" height="8.6" rx="1.8" fill="none" stroke="#1c1c1c" stroke-width="2.8"/>
<rect x="336.3" y="1009.7" width="8.6" height="8.6" rx="1.8" fill="none" stroke="#1c1c1c" stroke-width="2.8"/>
<rect x="329.5" y="1027.0" width="8.6" height="8.6" rx="1.8" fill="none" stroke="#1c1c1c" stroke-width="2.8"/>
</g>
<g id="panelE">
<text x="647.2" y="827.4" font-size="49.00" text-anchor="start" font-weight="normal" >E</text>
<line x1="694.0" y1="887.7" x2="694.0" y2="1197.2" stroke="#1c1c1c" stroke-width="2.90" stroke-linecap="butt"/>
<line x1="685.4" y1="889.0" x2="694.0" y2="889.0" stroke="#1c1c1c" stroke-width="2.70" stroke-linecap="butt"/>
<text x="681.3" y="897.2" font-size="23.10" text-anchor="end" font-weight="bold"  class="ns">60000</text>
<line x1="685.4" y1="940.2" x2="694.0" y2="940.2" stroke="#1c1c1c" stroke-width="2.70" stroke-linecap="butt"/>
<text x="681.3" y="948.4" font-size="23.10" text-anchor="end" font-weight="bold"  class="ns">50000</text>
<line x1="685.4" y1="991.4" x2="694.0" y2="991.4" stroke="#1c1c1c" stroke-width="2.70" stroke-linecap="butt"/>
<text x="681.3" y="999.6" font-size="23.10" text-anchor="end" font-weight="bold"  class="ns">40000</text>
<line x1="685.4" y1="1042.6" x2="694.0" y2="1042.6" stroke="#1c1c1c" stroke-width="2.70" stroke-linecap="butt"/>
<text x="681.3" y="1050.8" font-size="23.10" text-anchor="end" font-weight="bold"  class="ns">30000</text>
<line x1="685.4" y1="1093.8" x2="694.0" y2="1093.8" stroke="#1c1c1c" stroke-width="2.70" stroke-linecap="butt"/>
<text x="681.3" y="1102.0" font-size="23.10" text-anchor="end" font-weight="bold"  class="ns">20000</text>
<line x1="685.4" y1="1145.0" x2="694.0" y2="1145.0" stroke="#1c1c1c" stroke-width="2.70" stroke-linecap="butt"/>
<text x="681.3" y="1153.2" font-size="23.10" text-anchor="end" font-weight="bold"  class="ns">10000</text>
<text x="681.3" y="1204.4" font-size="23.10" text-anchor="end" font-weight="bold"  class="ns">0</text>
<line x1="685.4" y1="1196.0" x2="1156.4" y2="1196.0" stroke="#1c1c1c" stroke-width="2.90" stroke-linecap="butt"/>
<line x1="771.0" y1="1196.0" x2="771.0" y2="1204.6" stroke="#1c1c1c" stroke-width="2.70" stroke-linecap="butt"/>
<line x1="924.7" y1="1196.0" x2="924.7" y2="1204.6" stroke="#1c1c1c" stroke-width="2.70" stroke-linecap="butt"/>
<line x1="1078.4" y1="1196.0" x2="1078.4" y2="1204.6" stroke="#1c1c1c" stroke-width="2.70" stroke-linecap="butt"/>
<text x="770.7" y="1228.8" font-size="23.00" text-anchor="middle" font-weight="bold"  class="ns">Control</text>
<text x="924.4" y="1228.8" font-size="23.00" text-anchor="middle" font-weight="bold"  class="ns">WA0.15</text>
<text x="1078.2" y="1228.8" font-size="23.00" text-anchor="middle" font-weight="bold"  class="ns">WA0.25</text>
<text transform="translate(605.2 1041.0) rotate(-90)" font-size="25.00" text-anchor="middle" font-weight="bold"  class="ns">MFI</text>
<text x="918.4" y="1282.6" font-size="38.50" text-anchor="middle" font-weight="normal" >CD86</text>
<line x1="766.4" y1="877.6" x2="1069.6" y2="877.6" stroke="#1c1c1c" stroke-width="3.00" stroke-linecap="butt"/>
<text x="914.2" y="871.2" font-size="28.80" text-anchor="middle" font-weight="normal" >n.s.</text>
<polygon points="1077.9,981.0 1071.9,992.6 1083.9,992.6" fill="#5c5c5c"/>
<polygon points="1077.9,1016.2 1071.9,1027.8 1083.9,1027.8" fill="#5c5c5c"/>
<polygon points="1077.9,1079.0 1071.9,1090.6 1083.9,1090.6" fill="#5c5c5c"/>
<line x1="745.3" y1="928.8" x2="796.5" y2="928.8" stroke="#1c1c1c" stroke-width="2.95" stroke-linecap="butt"/>
<line x1="745.3" y1="1064.3" x2="796.5" y2="1064.3" stroke="#1c1c1c" stroke-width="2.95" stroke-linecap="butt"/>
<line x1="719.7" y1="996.3" x2="822.1" y2="996.3" stroke="#1c1c1c" stroke-width="3.00" stroke-linecap="butt"/>
<line x1="770.9" y1="928.8" x2="770.9" y2="1064.3" stroke="#1c1c1c" stroke-width="2.70" stroke-linecap="butt"/>
<line x1="898.7" y1="1019.9" x2="949.9" y2="1019.9" stroke="#1c1c1c" stroke-width="2.95" stroke-linecap="butt"/>
<line x1="898.7" y1="1059.6" x2="949.9" y2="1059.6" stroke="#1c1c1c" stroke-width="2.95" stroke-linecap="butt"/>
<line x1="873.1" y1="1039.8" x2="975.5" y2="1039.8" stroke="#1c1c1c" stroke-width="3.00" stroke-linecap="butt"/>
<line x1="924.3" y1="1019.9" x2="924.3" y2="1059.6" stroke="#1c1c1c" stroke-width="2.70" stroke-linecap="butt"/>
<line x1="1052.3" y1="981.2" x2="1103.5" y2="981.2" stroke="#1c1c1c" stroke-width="2.95" stroke-linecap="butt"/>
<line x1="1052.3" y1="1080.3" x2="1103.5" y2="1080.3" stroke="#1c1c1c" stroke-width="2.95" stroke-linecap="butt"/>
<line x1="1026.7" y1="1030.8" x2="1129.1" y2="1030.8" stroke="#1c1c1c" stroke-width="3.00" stroke-linecap="butt"/>
<line x1="1077.9" y1="981.2" x2="1077.9" y2="1080.3" stroke="#1c1c1c" stroke-width="3.00" stroke-linecap="butt"/>
<circle cx="770.9" cy="925.8" r="5.8" fill="none" stroke="#1c1c1c" stroke-width="2.9"/>
<circle cx="770.9" cy="1002.6" r="5.8" fill="none" stroke="#1c1c1c" stroke-width="2.9"/>
<circle cx="770.9" cy="1061.0" r="5.8" fill="none" stroke="#1c1c1c" stroke-width="2.9"/>
<rect x="912.4" y="1021.8" width="8.6" height="8.6" rx="1.8" fill="none" stroke="#1c1c1c" stroke-width="2.6"/>
<rect x="927.3" y="1026.4" width="8.6" height="8.6" rx="1.8" fill="none" stroke="#1c1c1c" stroke-width="2.6"/>
<rect x="920.1" y="1058.1" width="8.6" height="8.6" rx="1.8" fill="none" stroke="#1c1c1c" stroke-width="2.6"/>
</g>
<g id="panelF">
<text x="1268.4" y="827.0" font-size="49.00" text-anchor="start" font-weight="normal" >F</text>
<line x1="1296.6" y1="887.2" x2="1296.6" y2="1197.2" stroke="#1c1c1c" stroke-width="2.90" stroke-linecap="butt"/>
<line x1="1288.0" y1="888.5" x2="1296.6" y2="888.5" stroke="#1c1c1c" stroke-width="2.70" stroke-linecap="butt"/>
<text x="1283.4" y="896.7" font-size="23.10" text-anchor="end" font-weight="bold"  class="ns">10000</text>
<line x1="1288.0" y1="950.0" x2="1296.6" y2="950.0" stroke="#1c1c1c" stroke-width="2.70" stroke-linecap="butt"/>
<text x="1283.4" y="958.2" font-size="23.10" text-anchor="end" font-weight="bold"  class="ns">8000</text>
<line x1="1288.0" y1="1011.6" x2="1296.6" y2="1011.6" stroke="#1c1c1c" stroke-width="2.70" stroke-linecap="butt"/>
<text x="1283.4" y="1019.8" font-size="23.10" text-anchor="end" font-weight="bold"  class="ns">6000</text>
<line x1="1288.0" y1="1073.2" x2="1296.6" y2="1073.2" stroke="#1c1c1c" stroke-width="2.70" stroke-linecap="butt"/>
<text x="1283.4" y="1081.4" font-size="23.10" text-anchor="end" font-weight="bold"  class="ns">4000</text>
<line x1="1288.0" y1="1134.7" x2="1296.6" y2="1134.7" stroke="#1c1c1c" stroke-width="2.70" stroke-linecap="butt"/>
<text x="1283.4" y="1142.9" font-size="23.10" text-anchor="end" font-weight="bold"  class="ns">2000</text>
<text x="1283.4" y="1204.5" font-size="23.10" text-anchor="end" font-weight="bold"  class="ns">0</text>
<line x1="1288.0" y1="1196.0" x2="1757.2" y2="1196.0" stroke="#1c1c1c" stroke-width="2.90" stroke-linecap="butt"/>
<line x1="1373.1" y1="1196.0" x2="1373.1" y2="1204.6" stroke="#1c1c1c" stroke-width="2.70" stroke-linecap="butt"/>
<line x1="1526.5" y1="1196.0" x2="1526.5" y2="1204.6" stroke="#1c1c1c" stroke-width="2.70" stroke-linecap="butt"/>
<line x1="1680.5" y1="1196.0" x2="1680.5" y2="1204.6" stroke="#1c1c1c" stroke-width="2.70" stroke-linecap="butt"/>
<text x="1372.7" y="1228.8" font-size="23.00" text-anchor="middle" font-weight="bold"  class="ns">Control</text>
<text x="1526.3" y="1228.8" font-size="23.00" text-anchor="middle" font-weight="bold"  class="ns">WA0.15</text>
<text x="1680.0" y="1228.8" font-size="23.00" text-anchor="middle" font-weight="bold"  class="ns">WA0.25</text>
<text transform="translate(1207.0 1041.0) rotate(-90)" font-size="25.00" text-anchor="middle" font-weight="bold"  class="ns">MFI</text>
<text x="1543.3" y="1282.6" font-size="38.50" text-anchor="middle" font-weight="normal" >HLA-DR</text>
<line x1="1369.5" y1="902.0" x2="1673.2" y2="902.0" stroke="#1c1c1c" stroke-width="3.00" stroke-linecap="butt"/>
<text x="1517.3" y="902.6" font-size="25.50" text-anchor="middle" font-weight="normal" class="ns">*</text>
<polygon points="1670.8,1083.0 1664.7,1095.3 1676.9,1095.3" fill="#5c5c5c"/>
<polygon points="1689.5,1084.3 1683.3,1096.6 1695.7,1096.6" fill="#5c5c5c"/>
<polygon points="1680.1,1132.1 1674.1,1144.4 1686.1,1144.4" fill="#5c5c5c"/>
<line x1="1347.5" y1="956.3" x2="1398.7" y2="956.3" stroke="#1c1c1c" stroke-width="2.95" stroke-linecap="butt"/>
<line x1="1347.5" y1="1026.5" x2="1398.7" y2="1026.5" stroke="#1c1c1c" stroke-width="2.95" stroke-linecap="butt"/>
<line x1="1321.9" y1="991.3" x2="1424.3" y2="991.3" stroke="#1c1c1c" stroke-width="3.00" stroke-linecap="butt"/>
<line x1="1373.1" y1="956.3" x2="1373.1" y2="1026.5" stroke="#1c1c1c" stroke-width="2.70" stroke-linecap="butt"/>
<line x1="1501.1" y1="1011.9" x2="1552.3" y2="1011.9" stroke="#1c1c1c" stroke-width="2.95" stroke-linecap="butt"/>
<line x1="1501.1" y1="1073.7" x2="1552.3" y2="1073.7" stroke="#1c1c1c" stroke-width="2.95" stroke-linecap="butt"/>
<line x1="1475.5" y1="1042.8" x2="1577.9" y2="1042.8" stroke="#1c1c1c" stroke-width="3.00" stroke-linecap="butt"/>
<line x1="1526.7" y1="1011.9" x2="1526.7" y2="1073.7" stroke="#1c1c1c" stroke-width="2.70" stroke-linecap="butt"/>
<line x1="1654.5" y1="1077.4" x2="1705.7" y2="1077.4" stroke="#1c1c1c" stroke-width="2.95" stroke-linecap="butt"/>
<line x1="1654.5" y1="1133.9" x2="1705.7" y2="1133.9" stroke="#1c1c1c" stroke-width="2.95" stroke-linecap="butt"/>
<line x1="1628.9" y1="1106.1" x2="1731.3" y2="1106.1" stroke="#1c1c1c" stroke-width="3.00" stroke-linecap="butt"/>
<line x1="1680.1" y1="1077.4" x2="1680.1" y2="1133.9" stroke="#1c1c1c" stroke-width="3.90" stroke-linecap="butt"/>
<circle cx="1366.2" cy="967.0" r="4.0" fill="none" stroke="#1c1c1c" stroke-width="2.7"/>
<circle cx="1380.2" cy="975.8" r="4.0" fill="none" stroke="#1c1c1c" stroke-width="2.7"/>
<circle cx="1373.2" cy="1031.8" r="4.0" fill="none" stroke="#1c1c1c" stroke-width="2.7"/>
<rect x="1522.7" y="1004.1" width="8.0" height="8.0" rx="1.8" fill="none" stroke="#1c1c1c" stroke-width="2.5"/>
<rect x="1529.5" y="1050.2" width="8.0" height="8.0" rx="1.8" fill="none" stroke="#1c1c1c" stroke-width="2.5"/>
<rect x="1516.0" y="1062.6" width="8.0" height="8.0" rx="1.8" fill="none" stroke="#1c1c1c" stroke-width="2.5"/>
</g>
</svg>
</body>
</html>
